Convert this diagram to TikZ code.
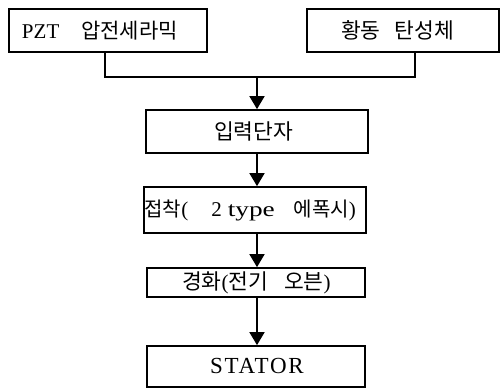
\documentclass[tikz,border=0pt]{standalone}
\usepackage{fontspec}
\usepackage{graphicx}
\setmainfont{Liberation Serif}
\newfontfamily\kr{Noto Sans CJK KR}
\newcommand{\ko}[2][21.5]{{\kr\fontsize{#1}{24}\selectfont #2}}
\newcommand{\lft}[2]{\makebox[#1][l]{#2}}
\usetikzlibrary{arrows.meta}
\tikzset{
  box/.style={draw, line width=1.7pt, minimum height=#1, inner sep=0pt, font=\fontsize{21}{24}\selectfont},
  flow/.style={line width=1.7pt},
  arr/.style={line width=1.7pt, -{Triangle[length=13pt,width=15pt]}}
}
\begin{document}
\begin{tikzpicture}[x=1pt,y=1pt]
\useasboundingbox (0,0) rectangle (501,390);
\node[box=43pt, minimum width=198pt] (b1) at (108,359.5)
  {\lft{198pt}{\hspace{13pt}PZT\hspace{22pt}\ko[21]{압전세라믹}}};
\node[box=43pt, minimum width=192pt] (b2) at (403,359.5)
  {\lft{192pt}{\hspace{34pt}\ko{황동}\hspace{14pt}\ko{탄성체}}};
\node[box=43pt, minimum width=222pt] (b3) at (257,258.5)
  {\lft{222pt}{\hspace{68pt}\ko{입력단자}}};
\node[box=46pt, minimum width=222pt] (b4) at (255,180)
  {\lft{222pt}{\hspace{0.5pt}\ko[20]{접착}(\hspace{23pt}2\hspace{6pt}\scalebox{1.3}[1]{type}\hspace{19pt}\ko[20]{에폭시})}};
\node[box=29pt, minimum width=218pt] (b5) at (256,107.5)
  {\lft{218pt}{\hspace{35pt}\ko{경화}(\ko{전기}\hspace{16pt}\ko{오븐})}};
\node[box=41pt, minimum width=218pt] (b6) at (256,23.5)
  {\lft{218pt}{\hspace{63pt}{\fontsize{23}{26}\selectfont\addfontfeature{LetterSpace=8}STATOR}}};
\coordinate (j) at (257,313);
\draw[flow] ([xshift=-3pt]b1.south) |- (j) -| ([xshift=12pt]b2.south);
\draw[arr] (j) -- (b3.north);
\draw[arr] (b3.south) -- (b3.south |- b4.north);
\draw[arr] (b3.south |- b4.south) -- (b3.south |- b5.north);
\draw[arr] (b3.south |- b5.south) -- (b3.south |- b6.north);
\end{tikzpicture}
\end{document}
